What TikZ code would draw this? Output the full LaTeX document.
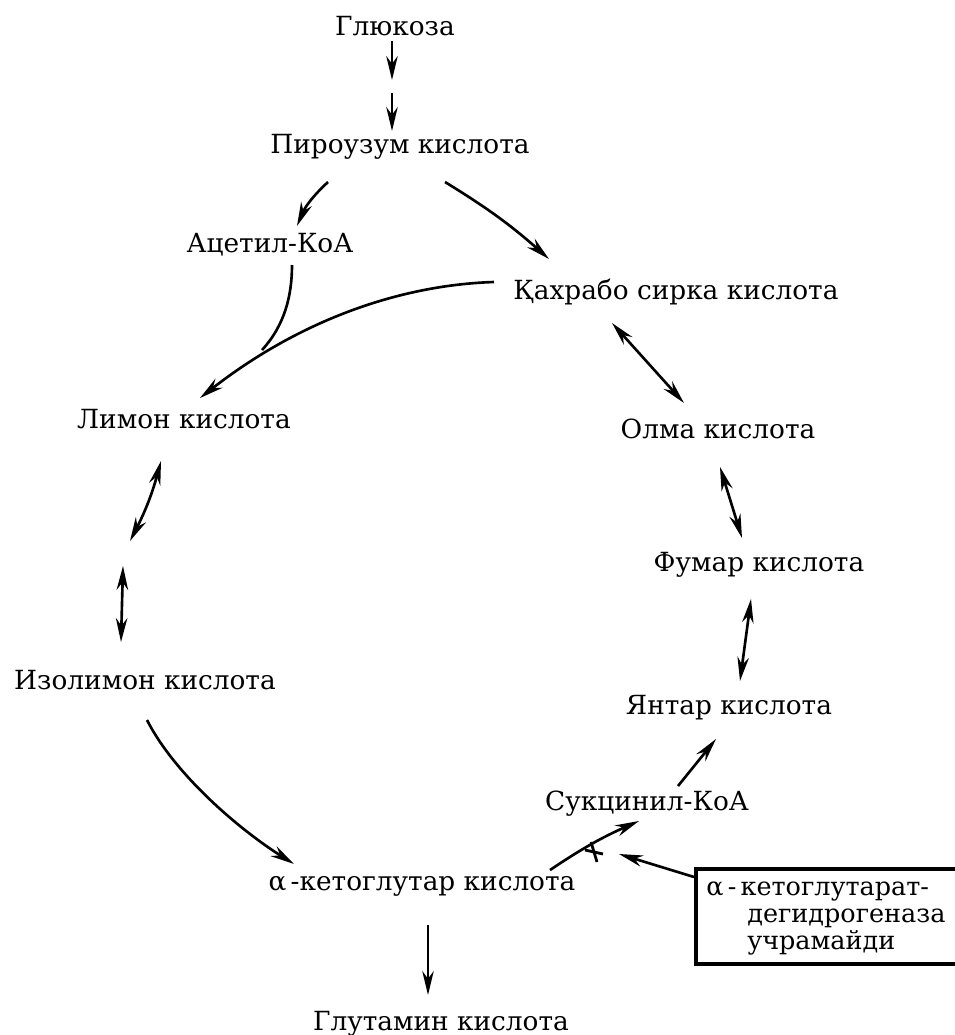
\documentclass[tikz,border=0pt]{standalone}
\usepackage{fontspec}
\setmainfont{DejaVu Serif}
\usetikzlibrary{arrows.meta,calc}
\begin{document}
\begin{tikzpicture}[x=0.02cm,y=-0.02cm,
  lbl/.style={font=\fontsize{15}{18}\selectfont, inner sep=0pt, anchor=base},
  blbl/.style={font=\fontsize{14.5}{17}\selectfont, inner sep=0pt, anchor=base west},
  ar/.style={line width=1.5pt, -{Stealth[length=4.8mm,width=2.3mm]}},
  dar/.style={line width=1.5pt, {Stealth[length=4.8mm,width=2.3mm]}-{Stealth[length=4.8mm,width=2.3mm]}}]
\fill[white] (0,0) rectangle (954,1035);
\useasboundingbox (0,0) rectangle (954,1035);
% nodes
\node[lbl] (glu) at (395,35) {Глюкоза};
\node[lbl] (pyr) at (400,153) {Пироузум кислота};
\node[lbl] (acet) at (270,252) {Ацетил-КоА};
\node[lbl] (kah) at (676,299) {Қахрабо сирка кислота};
\node[lbl] (lim) at (184,428) {Лимон кислота};
\node[lbl] (olma) at (718,438) {Олма кислота};
\node[lbl] (fum) at (759,571) {Фумар кислота};
\node[lbl] (izo) at (145,689) {Изолимон кислота};
\node[lbl] (yan) at (729,714) {Янтар кислота};
\node[lbl] (suk) at (647,810) {Сукцинил-КоА};
\node[lbl] (akg) at (422,890) {α\,-кетоглутар кислота};
\node[lbl] (glut) at (441,1030) {Глутамин кислота};
\node[draw, line width=2.4pt, minimum width=5.4cm, minimum height=1.9cm, inner sep=0pt, anchor=north west] (box) at (694,867) {};
\node[blbl] (b1) at (706,895) {α\,-\,кетоглутарат-};
\node[blbl] (b2) at (747,922) {дегидрогеназа};
\node[blbl] (b3) at (747,949) {учрамайди};
% coordinates
\coordinate (g1) at (392,41);
\coordinate (g2) at (392,80);
\coordinate (g3) at (392,93);
\coordinate (g4) at (392,131);
\coordinate (p1) at (328,182);
\coordinate (a1) at (297,226);
\coordinate (p2) at (445,182);
\coordinate (k1) at (549,259);
\coordinate (a2) at (292,265);
\coordinate (m) at (262,350);
\coordinate (k2) at (494,282);
\coordinate (l1) at (200,398);
\coordinate (k3) at (612,323);
\coordinate (o1) at (684,403);
\coordinate (o2) at (720,467);
\coordinate (f1) at (742,538);
\coordinate (f2) at (751,599);
\coordinate (y1) at (740,681);
\coordinate (s1) at (678,786);
\coordinate (y2) at (716,739);
\coordinate (ak1) at (550,870);
\coordinate (s2) at (639,821);
\coordinate (x) at (594,852);
\coordinate (xt) at (619,854);
\coordinate (l2) at (161,461);
\coordinate (i0) at (130,541);
\coordinate (l3) at (123,566);
\coordinate (i1) at (121,642);
\coordinate (i2) at (147,720);
\coordinate (ak2) at (294,864);
\coordinate (ak3) at (428,925);
\coordinate (gl) at (428,995);
% connectors
\draw[ar] (g1) -- (g2);
\draw[ar] (g3) -- (g4);
\draw[ar] (p1) to[bend right=12] (a1);
\draw[ar] (p2) to[bend left=5] (k1);
\draw[line width=1.5pt] (a2) .. controls (292,295) and (285,325) .. (m);
\draw[ar] (k2) .. controls (400,285) and (300,320) .. (l1);
\draw[dar] (k3) -- (o1);
\draw[dar] (o2) -- (f1);
\draw[dar] (f2) -- (y1);
\draw[ar] (s1) -- (y2);
\draw[ar] (ak1) to[bend left=5] (s2);
\draw[line width=1.6pt] ($(x)+(-3,-10)$) -- ($(x)+(3,10)$);
\draw[line width=1.6pt] ($(x)+(-9,-2)$) -- ($(x)+(9,2)$);
\draw[ar] (box.west |- 0,877) -- (xt);
\draw[dar] (l2) to[bend left=6] (i0);
\draw[dar] (l3) -- (i1);
\draw[ar] (i2) .. controls (175,775) and (240,830) .. (ak2);
\draw[ar] (ak3) -- (gl);
\end{tikzpicture}
\end{document}
